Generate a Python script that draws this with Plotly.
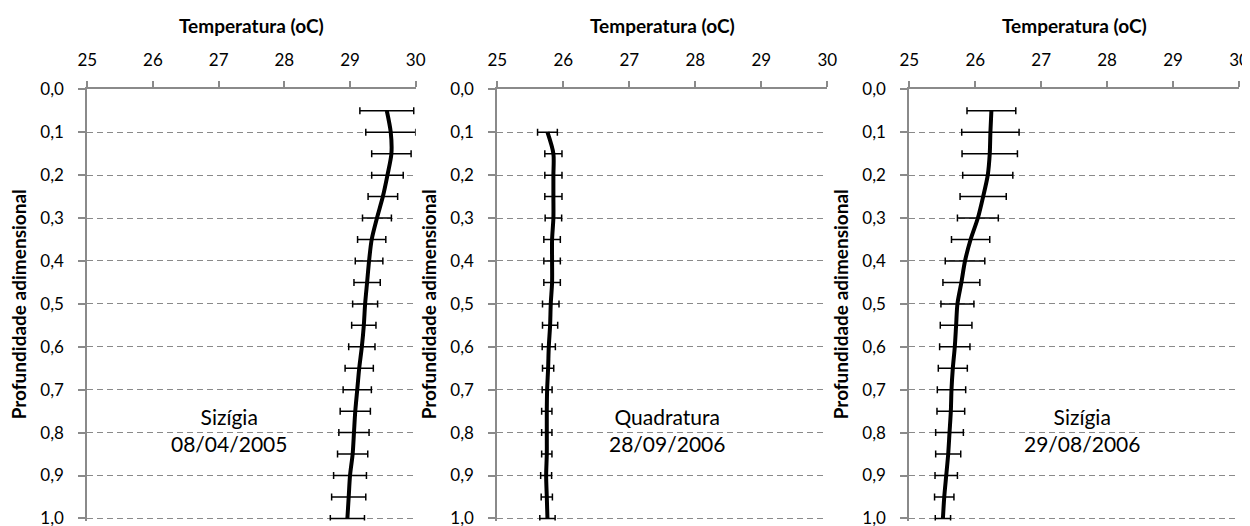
import plotly.graph_objects as go

# profundidade adimensional (eixo vertical)
depth_full = [0.05, 0.10, 0.15, 0.20, 0.25, 0.30, 0.35, 0.40, 0.45, 0.50,
              0.55, 0.60, 0.65, 0.70, 0.75, 0.80, 0.85, 0.90, 0.95, 1.00]
depth_quad = depth_full[1:]

# Sizígia 08/04/2005
temp_siz05 = [29.56, 29.62, 29.63, 29.57, 29.50, 29.41, 29.33, 29.29, 29.26, 29.23,
              29.21, 29.18, 29.14, 29.11, 29.08, 29.06, 29.04, 29.00, 28.98, 28.96]
err_siz05 = [0.41, 0.38, 0.30, 0.24, 0.225, 0.22, 0.215, 0.21, 0.20, 0.19,
             0.185, 0.20, 0.215, 0.215, 0.23, 0.23, 0.23, 0.25, 0.26, 0.26]

# Quadratura 28/09/2006
temp_quad = [25.76, 25.85, 25.85, 25.85, 25.85, 25.83, 25.83, 25.83, 25.81, 25.80,
             25.78, 25.77, 25.755, 25.75, 25.75, 25.75, 25.74, 25.75, 25.76]
err_quad = [0.15, 0.13, 0.13, 0.13, 0.125, 0.125, 0.125, 0.125, 0.125, 0.115,
            0.10, 0.085, 0.075, 0.078, 0.078, 0.078, 0.083, 0.085, 0.116]

# Sizígia 29/08/2006
temp_siz06 = [26.245, 26.23, 26.22, 26.19, 26.12, 26.04, 25.93, 25.845, 25.79, 25.73,
              25.71, 25.69, 25.66, 25.64, 25.63, 25.61, 25.59, 25.56, 25.53, 25.51]
err_siz06 = [0.37, 0.435, 0.42, 0.38, 0.35, 0.31, 0.29, 0.30, 0.28, 0.25,
             0.24, 0.23, 0.22, 0.215, 0.21, 0.21, 0.19, 0.17, 0.147, 0.116]

labels = ["Sizígia<br>08/04/2005", "Quadratura<br>28/09/2006", "Sizígia<br>29/08/2006"]
label_x = [27.15, 27.57, 27.62]

x_ticks = [25, 26, 27, 28, 29, 30]
y_ticks = [0.0, 0.1, 0.2, 0.3, 0.4, 0.5, 0.6, 0.7, 0.8, 0.9, 1.0]
y_ticktext = [f"{v:.1f}".replace(".", ",") for v in y_ticks]

FONT = "Lato"
GRID = "#8a8a8a"
W, H = 1242, 530  # page body keeps an 8px margin
x_domains = [[0.06385, 0.32826], [0.39396, 0.65966], [0.72568, 0.99114]]
y_domain = [0.03283, 0.84660]

series = [(temp_siz05, err_siz05, depth_full),
          (temp_quad, err_quad, depth_quad),
          (temp_siz06, err_siz06, depth_full)]

fig = go.Figure()

for i, (temp, err, depth) in enumerate(series):
    n = "" if i == 0 else str(i + 1)
    fig.add_trace(go.Scatter(
        x=temp, y=depth,
        mode="lines",
        line=dict(color="black", width=4, shape="spline", smoothing=0.8),
        error_x=dict(type="data", array=err, visible=True,
                     color="black", thickness=1.5, width=3.5),
        xaxis="x" + n, yaxis="y" + n,
        showlegend=False,
    ))

    fig.update_layout(**{
        "xaxis" + n: dict(
            domain=x_domains[i], anchor="y" + n, side="top",
            range=[25, 30], tickvals=x_ticks,
            showline=True, linecolor=GRID, linewidth=2,
            ticks="outside", ticklen=6, tickwidth=1.5, tickcolor=GRID,
            ticklabelstandoff=9,
            showgrid=False, zeroline=False, automargin=False,
            tickfont=dict(family=FONT, size=17, color="black"),
        ),
        "yaxis" + n: dict(
            domain=y_domain, anchor="x" + n,
            range=[1.005, 0.0], tickvals=y_ticks, ticktext=y_ticktext,
            showline=True, linecolor=GRID, linewidth=2,
            ticks="outside", ticklen=7, tickwidth=1.5, tickcolor=GRID,
            ticklabelstandoff=11,
            showgrid=True, gridcolor=GRID, gridwidth=1, griddash="6px,4px",
            zeroline=False, automargin=False,
            tickfont=dict(family=FONT, size=17, color="black"),
        ),
    })

    xc = (x_domains[i][0] + x_domains[i][1]) / 2
    fig.add_annotation(x=xc, y=0.96792, xref="paper", yref="paper",
                       xanchor="center", yanchor="middle",
                       text="<b>Temperatura (oC)</b>", showarrow=False,
                       font=dict(family=FONT, size=19, color="black"))
    fig.add_annotation(x=x_domains[i][0] - 68 / W, y=0.44151,
                       xref="paper", yref="paper", textangle=-90,
                       xanchor="center", yanchor="middle",
                       text="<b>Profundidade adimensional</b>", showarrow=False,
                       font=dict(family=FONT, size=19, color="black"))
    fig.add_annotation(x=label_x[i], y=0.795, xref="x" + n, yref="y" + n,
                       xanchor="center", yanchor="middle",
                       text=labels[i], showarrow=False,
                       font=dict(family=FONT, size=21, color="black"))

fig.update_layout(
    width=W, height=H,
    margin=dict(l=0, r=0, t=0, b=0),
    paper_bgcolor="white", plot_bgcolor="white",
)

fig.write_html("out.html")
